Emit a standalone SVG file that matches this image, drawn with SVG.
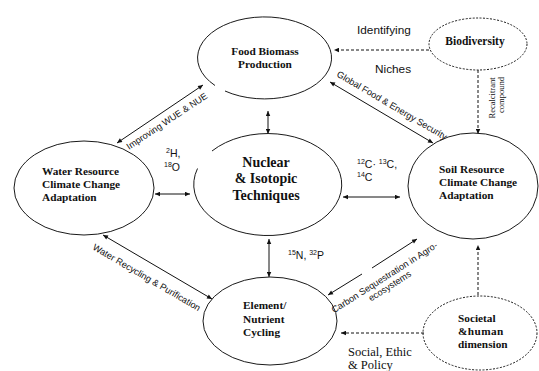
<svg xmlns="http://www.w3.org/2000/svg" width="539" height="371" viewBox="0 0 539 371">
<style>
.node{fill:none;stroke:#1a1a1a;stroke-width:1}
.dnode{fill:none;stroke:#1a1a1a;stroke-width:1;stroke-dasharray:2 1.5}
.t{font-family:"Liberation Serif","Times New Roman",serif;font-weight:bold;font-size:11.3px;fill:#111}
.tc{text-anchor:middle}
.s{font-family:"Liberation Sans",Arial,sans-serif;font-size:9.2px;fill:#111}
.iso{font-family:"Liberation Sans",Arial,sans-serif;font-size:10.5px;fill:#111}
.lbl{font-family:"Liberation Sans",Arial,sans-serif;font-size:11.8px;fill:#111}
.serif{font-family:"Liberation Serif","Times New Roman",serif;font-size:12.5px;fill:#111}
.rc{font-family:"Liberation Serif","Times New Roman",serif;font-size:8.5px;fill:#111;text-anchor:middle}
.c{fill:none;stroke:#111;stroke-width:1;marker-start:url(#ah);marker-end:url(#ah)}
.d{fill:none;stroke:#111;stroke-width:1;stroke-dasharray:3 2;marker-end:url(#ah)}
</style>
<defs>
<marker id="ah" viewBox="0 0 10 10" refX="10" refY="5" markerWidth="6" markerHeight="5" markerUnits="userSpaceOnUse" orient="auto-start-reverse">
<path d="M0,0.5 L10,5 L0,9.5 z" fill="#111"/>
</marker>
</defs>
<rect width="539" height="371" fill="#fff"/>

<g id="connectors">
<line class="d" x1="429" y1="50" x2="334" y2="50"/>
<line class="d" x1="478" y1="70" x2="478" y2="134"/>
<line class="d" x1="478" y1="295" x2="478" y2="245"/>
<line class="d" x1="424" y1="333" x2="341" y2="333"/>
<line class="c" x1="117" y1="143" x2="203" y2="85"/>
<line class="c" x1="330" y1="82" x2="433" y2="143"/>
<line class="c" x1="268" y1="111" x2="268" y2="134"/>
<line class="c" x1="155" y1="194" x2="190" y2="194"/>
<line class="c" x1="343" y1="197" x2="400" y2="197"/>
<line class="c" x1="269" y1="239" x2="269" y2="277"/>
<line class="c" x1="103" y1="235" x2="212" y2="299"/>
<line fill="none" stroke="#111" stroke-width="1" x1="328" y1="295" x2="362" y2="274" style="marker-start:url(#ah)"/>
<line fill="none" stroke="#111" stroke-width="1" x1="372" y1="268" x2="417" y2="239" style="marker-end:url(#ah)"/>
<text class="lbl" x="357" y="34">Identifying</text>
<text class="lbl" x="375" y="73">Niches</text>
<text class="rc" transform="translate(495,98) rotate(-90)">Recalcitrant</text>
<text class="rc" transform="translate(504,95) rotate(-90)">compound</text>
<text class="s" transform="translate(129,150) rotate(-33.5)">Improving WUE &amp; NUE</text>
<text class="s" transform="translate(336,76) rotate(30.5)">Global Food &amp; Energy Security</text>
<text class="s" transform="translate(92,249) rotate(30.4)">Water Recycling &amp; Purification</text>
<g transform="translate(333,314) rotate(-32.5)">
<text class="s" x="63" y="0" text-anchor="middle">Carbon Sequestration in Agro-</text>
<text class="s" x="63" y="10" text-anchor="middle">ecosystems</text>
</g>
<text class="iso" x="166" y="157"><tspan font-size="7" dy="-4">2</tspan><tspan dy="4">H,</tspan></text>
<text class="iso" x="164" y="170.5"><tspan font-size="7" dy="-4">18</tspan><tspan dy="4">O</tspan></text>
<text class="iso" x="357" y="168"><tspan font-size="7" dy="-4">12</tspan><tspan dy="4">C· </tspan><tspan font-size="7" dy="-4">13</tspan><tspan dy="4">C,</tspan></text>
<text class="iso" x="357" y="181"><tspan font-size="7" dy="-4">14</tspan><tspan dy="4">C</tspan></text>
<text class="iso" x="288" y="259"><tspan font-size="7" dy="-4">15</tspan><tspan dy="4">N, </tspan><tspan font-size="7" dy="-4">32</tspan><tspan dy="4">P</tspan></text>
<text class="serif" x="348" y="356">Social, Ethic</text>
<text class="serif" x="348" y="369">&amp; Policy</text>
</g>

<g id="food">
<path class="node" d="M225,91 A67,41 0 1 0 215,85.5"/>
<text class="t tc" x="265" y="55">Food Biomass</text>
<text class="t tc" x="265" y="68">Production</text>
</g>
<g id="biodiversity">
<ellipse class="dnode" cx="478" cy="44" rx="49" ry="26"/>
<text class="t tc" x="475" y="45" style="font-size:11.5px">Biodiversity</text>
</g>
<g id="water">
<ellipse class="node" cx="84" cy="188" rx="70" ry="47"/>
<text class="t" x="42" y="175">Water Resource</text>
<text class="t" x="42" y="188">Climate Change</text>
<text class="t" x="42" y="201">Adaptation</text>
</g>
<g id="nuclear">
<path class="node" d="M212,151 A74,51 0 1 1 197.5,168.5"/>
<text class="t tc" x="266" y="166.5" style="font-size:14px">Nuclear</text>
<text class="t tc" x="266" y="183" style="font-size:14px">&amp; Isotopic</text>
<text class="t tc" x="266" y="199.5" style="font-size:14px">Techniques</text>
</g>
<g id="soil">
<ellipse class="node" cx="473" cy="186" rx="65" ry="53"/>
<text class="t" x="439" y="173">Soil Resource</text>
<text class="t" x="439" y="186">Climate Change</text>
<text class="t" x="439" y="199">Adaptation</text>
</g>
<g id="element">
<ellipse class="node" cx="270" cy="321" rx="67" ry="44"/>
<text class="t" x="243" y="309">Element/</text>
<text class="t" x="243" y="323">Nutrient</text>
<text class="t" x="243" y="336">Cycling</text>
</g>
<g id="societal">
<ellipse class="dnode" cx="480" cy="333" rx="57" ry="37"/>
<text class="t" x="458" y="322">Societal</text>
<text class="t" x="458" y="335" style="letter-spacing:0.4px">&amp;human</text>
<text class="t" x="458" y="348">dimension</text>
</g>
</svg>
